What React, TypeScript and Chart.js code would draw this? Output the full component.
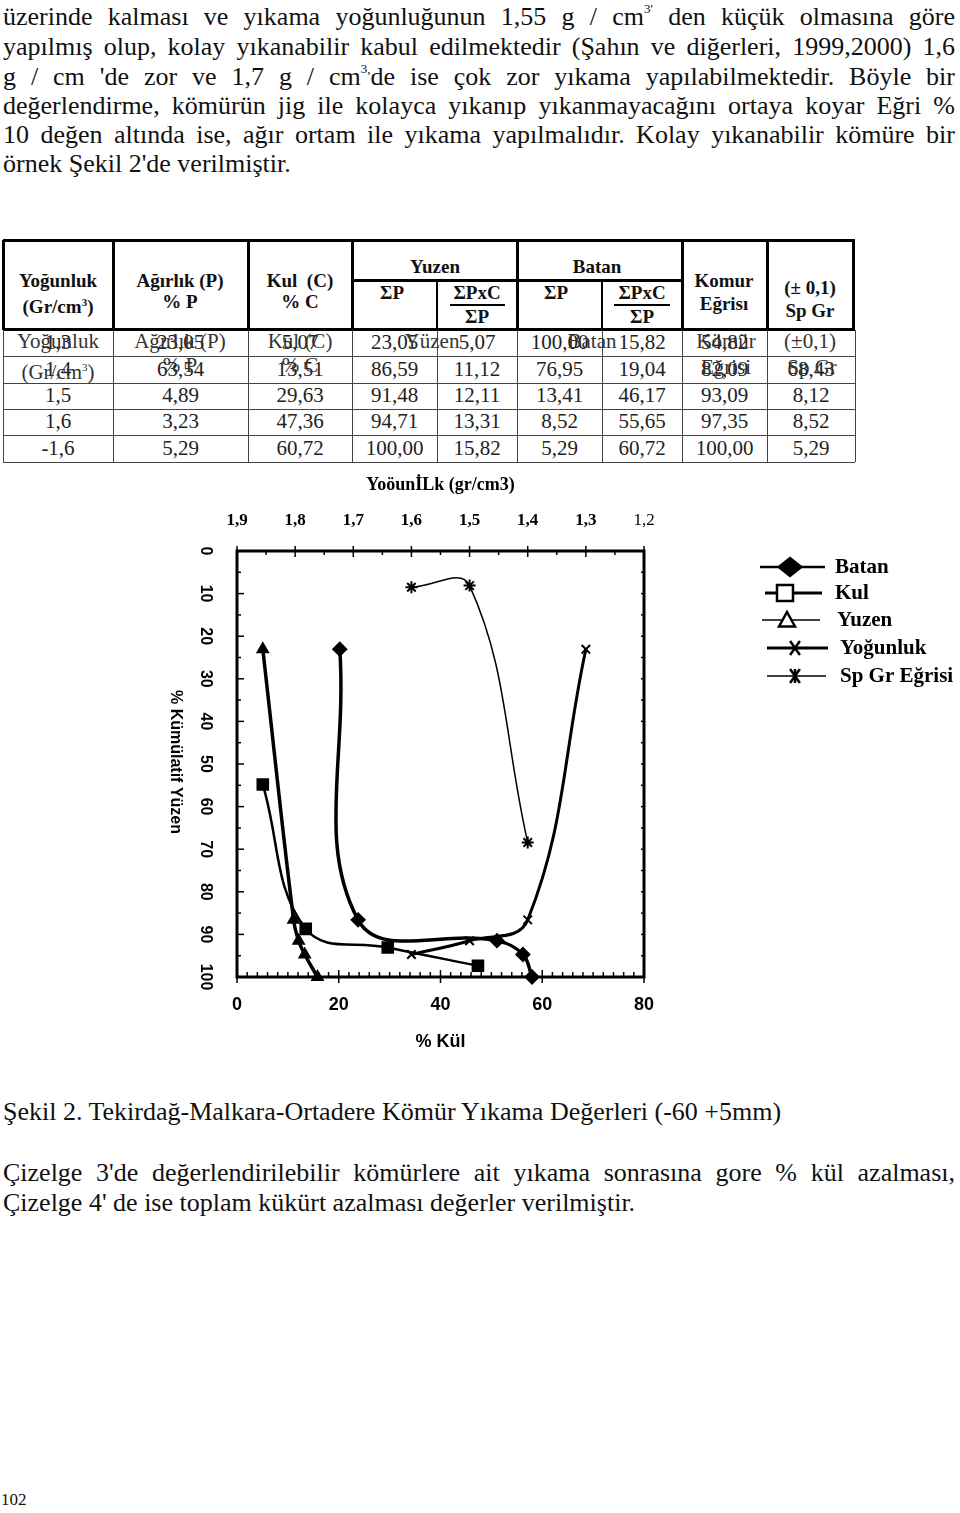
import React, { useEffect, useRef } from 'react';
import { Chart, registerables } from 'chart.js';

Chart.register(...registerables);

// ---------- table data ----------
const densityCol = ['1,3', '1,4', '1,5', '1,6', '-1,6'];
const weightCol = ['23,05', '63,54', '4,89', '3,23', '5,29'];
const ashCol = ['5,07', '13,51', '29,63', '47,36', '60,72'];
const floatSumP = ['23,05', '86,59', '91,48', '94,71', '100,00'];
const floatAsh = ['5,07', '11,12', '12,11', '13,31', '15,82'];
const sinkSumP = ['100,00', '76,95', '13,41', '8,52', '5,29'];
const sinkAsh = ['15,82', '19,04', '46,17', '55,65', '60,72'];
const coalCurve = ['54,82', '82,09', '93,09', '97,35', '100,00'];
const spGrCol = ['', '68,43', '8,12', '8,52', '5,29'];

// ---------- chart data ----------
const batanAsh = [20.2, 23.8, 51.1, 56.2, 58.0];
const batanCum = [23.05, 86.59, 91.48, 94.71, 100];
const kulAsh = [5.07, 13.51, 29.63, 47.36];
const kulCum = [54.82, 88.7, 93.09, 97.35];
const yuzenAsh = [5.07, 11.12, 12.11, 13.31, 15.82];
const yuzenCum = [23.05, 86.59, 91.48, 94.71, 100];
const yogunlukDensity = [1.3, 1.4, 1.5, 1.6];
const yogunlukCum = [23.05, 86.59, 91.48, 94.71];
const spGrDensity = [1.6, 1.5, 1.4];
const spGrCum = [8.52, 8.12, 68.43];

const seriesNames = ['Batan', 'Kul', 'Yuzen', 'Yoğunluk', 'Sp Gr Eğrisi'];
const yTickValues = [0, 10, 20, 30, 40, 50, 60, 70, 80, 90, 100];

const CL = 150;
const CT = 470;
const CW = 810;
const CH = 600;

const pts = (xs: number[], ys: number[]) => xs.map((x, i) => ({ x, y: ys[i] }));

function drawMarker(ctx: CanvasRenderingContext2D, kind: string, x: number, y: number, r: number, filled: boolean) {
  ctx.beginPath();
  if (kind === 'diamond') {
    ctx.moveTo(x, y - r);
    ctx.lineTo(x + r * 1.25, y);
    ctx.lineTo(x, y + r);
    ctx.lineTo(x - r * 1.25, y);
    ctx.closePath();
  } else if (kind === 'square') {
    ctx.rect(x - r, y - r, 2 * r, 2 * r);
  } else if (kind === 'triangle') {
    ctx.moveTo(x, y - r);
    ctx.lineTo(x + r, y + r * 0.8);
    ctx.lineTo(x - r, y + r * 0.8);
    ctx.closePath();
  } else if (kind === 'cross') {
    ctx.moveTo(x - r * 0.7, y - r);
    ctx.lineTo(x + r * 0.7, y + r);
    ctx.moveTo(x + r * 0.7, y - r);
    ctx.lineTo(x - r * 0.7, y + r);
  } else if (kind === 'star') {
    ctx.moveTo(x - r * 0.7, y - r);
    ctx.lineTo(x + r * 0.7, y + r);
    ctx.moveTo(x + r * 0.7, y - r);
    ctx.lineTo(x - r * 0.7, y + r);
    ctx.moveTo(x, y - r);
    ctx.lineTo(x, y + r);
  }
  if (filled) {
    ctx.fillStyle = '#000';
    ctx.fill();
  } else if (kind === 'diamond' || kind === 'square' || kind === 'triangle') {
    ctx.fillStyle = '#fff';
    ctx.fill();
  }
  ctx.stroke();
}

function WashChart() {
  const ref = useRef<HTMLCanvasElement>(null);
  useEffect(() => {
    const canvas = ref.current;
    if (!canvas) return;

    const framePlugin = {
      id: 'framePlugin',
      beforeDatasetsDraw(chart: any) {
        const { ctx, chartArea: a, scales } = chart;
        const x = scales.x;
        const x2 = scales.x2;
        const y = scales.y;
        ctx.save();
        ctx.strokeStyle = '#000';
        ctx.lineWidth = 1.5;
        for (let v = 0; v <= 80; v += 2) {
          const px = x.getPixelForValue(v);
          const major = v % 20 === 0;
          ctx.beginPath();
          ctx.moveTo(px, a.bottom + (major ? 6 : 0));
          ctx.lineTo(px, a.bottom - (major ? 7 : 5));
          ctx.stroke();
        }
        for (let i = 0; i <= 14; i++) {
          const v = 1.2 + i * 0.05;
          const px = x2.getPixelForValue(v);
          const major = i % 2 === 0;
          ctx.beginPath();
          ctx.moveTo(px, a.top - (major ? 5 : 0));
          ctx.lineTo(px, a.top + (major ? 6 : 4));
          ctx.stroke();
        }
        for (let v = 0; v <= 100; v += 5) {
          const py = y.getPixelForValue(v);
          const major = v % 10 === 0;
          ctx.beginPath();
          ctx.moveTo(a.left, py);
          ctx.lineTo(a.left + (major ? 7 : 4), py);
          ctx.stroke();
          ctx.beginPath();
          ctx.moveTo(a.right, py);
          ctx.lineTo(a.right - 3, py);
          ctx.stroke();
        }
        ctx.lineWidth = 3;
        ctx.strokeRect(a.left, a.top, a.right - a.left, a.bottom - a.top);
        ctx.restore();
      },
      afterDraw(chart: any) {
        const { ctx, scales } = chart;
        const y = scales.y;
        ctx.save();
        ctx.fillStyle = '#000';
        ctx.font = 'bold 16px "Liberation Sans", Arial, sans-serif';
        ctx.textAlign = 'center';
        ctx.textBaseline = 'middle';
        yTickValues.forEach((v) => {
          const py = y.getPixelForValue(v);
          ctx.save();
          ctx.translate(55, py);
          ctx.rotate(Math.PI / 2);
          ctx.fillText(String(v), 0, 0);
          ctx.restore();
        });
        ctx.save();
        ctx.translate(25, (y.top + y.bottom) / 2 - 2);
        ctx.rotate(Math.PI / 2);
        ctx.fillText('% Kümülatif Yüzen', 0, 0);
        ctx.restore();

        // legend
        const items = [
          { kind: 'diamond', y: 97, x1: 610, x2: 675, mx: 640, r: 9, lw: 2.5, tx: 685 },
          { kind: 'square', y: 123, x1: 615, x2: 672, mx: 635, r: 8, lw: 3, tx: 685 },
          { kind: 'triangle', y: 150, x1: 612, x2: 670, mx: 637, r: 8, lw: 1.5, tx: 687 },
          { kind: 'cross', y: 178, x1: 617, x2: 678, mx: 645, r: 7, lw: 3, tx: 690 },
          { kind: 'star', y: 206, x1: 617, x2: 676, mx: 645, r: 7, lw: 1.5, tx: 690 },
        ];
        ctx.font = 'bold 21px "Liberation Serif", "Times New Roman", serif';
        ctx.textAlign = 'left';
        items.forEach((it, i) => {
          ctx.strokeStyle = '#000';
          ctx.lineWidth = it.lw;
          ctx.beginPath();
          ctx.moveTo(it.x1, it.y);
          ctx.lineTo(it.x2, it.y);
          ctx.stroke();
          ctx.lineWidth = 2.5;
          drawMarker(ctx, it.kind, it.mx, it.y, it.r, it.kind === 'diamond' || it.kind === 'star');
          ctx.fillStyle = '#000';
          ctx.fillText(chart.data.datasets[i].label, it.tx, it.y + 1);
        });
        ctx.restore();
      },
    };

    const base = {
      showLine: true,
      tension: 0.4,
      borderColor: '#000',
      backgroundColor: '#000',
      pointBackgroundColor: '#000',
      pointBorderColor: '#000',
      pointBorderWidth: 2,
      clip: false as any,
    };

    const chart = new Chart(canvas, {
      type: 'scatter',
      data: {
        datasets: [
          { ...base, label: seriesNames[0], data: pts(batanAsh, batanCum), xAxisID: 'x', borderWidth: 3.5, pointStyle: 'rectRot', pointRadius: 6.5 },
          { ...base, label: seriesNames[1], data: pts(kulAsh, kulCum), xAxisID: 'x', borderWidth: 2.5, pointStyle: 'rect', pointRadius: 7.5 },
          { ...base, label: seriesNames[2], data: pts(yuzenAsh, yuzenCum), xAxisID: 'x', borderWidth: 3.5, pointStyle: 'triangle', pointRadius: 6 },
          { ...base, label: seriesNames[3], data: pts(yogunlukDensity, yogunlukCum), xAxisID: 'x2', borderWidth: 3, pointStyle: 'crossRot', pointRadius: 6 },
          { ...base, label: seriesNames[4], data: pts(spGrDensity, spGrCum), xAxisID: 'x2', borderWidth: 1.5, pointStyle: 'star', pointRadius: 6 },
        ],
      } as any,
      options: {
        animation: false,
        responsive: false,
        devicePixelRatio: 1,
        layout: { padding: { left: 0, right: 316, top: 0, bottom: 0 }, autoPadding: false } as any,
        plugins: { legend: { display: false }, tooltip: { enabled: false } },
        scales: {
          x: {
            type: 'linear',
            position: 'bottom',
            min: 0,
            max: 80,
            grid: { display: false, drawTicks: false },
            border: { display: false },
            ticks: {
              stepSize: 20,
              padding: 17,
              color: '#000',
              font: { family: '"Liberation Sans", Arial, sans-serif', weight: 'bold', size: 18 },
            },
            title: {
              display: true,
              text: '% Kül',
              color: '#000',
              padding: { top: 0, bottom: 17 },
              font: { family: '"Liberation Sans", Arial, sans-serif', weight: 'bold', size: 18 },
            },
            afterFit: (s: any) => { s.height = 93; },
          },
          x2: {
            type: 'linear',
            position: 'top',
            min: 1.2,
            max: 1.9,
            reverse: true,
            grid: { display: false, drawTicks: false },
            border: { display: false },
            ticks: {
              stepSize: 0.1,
              padding: 20,
              color: '#000',
              callback: (v: any) => Number(v).toFixed(1).replace('.', ','),
              font: (ctx: any) => ({
                family: '"Liberation Serif", "Times New Roman", serif',
                weight: ctx.tick && Math.abs(ctx.tick.value - 1.2) < 1e-6 ? 'normal' : 'bold',
                size: 17,
              }),
            },
            title: {
              display: true,
              text: 'YoöunİLk (gr/cm3)',
              color: '#000',
              padding: { top: 5, bottom: 0 },
              font: { family: '"Liberation Serif", "Times New Roman", serif', weight: 'bold', size: 18 },
            },
            afterFit: (s: any) => { s.height = 81; },
          },
          y: {
            type: 'linear',
            position: 'left',
            min: 0,
            max: 100,
            reverse: true,
            grid: { display: false, drawTicks: false },
            border: { display: false },
            ticks: { stepSize: 10, display: false },
            afterFit: (s: any) => { s.width = 87; },
          },
        },
      } as any,
      plugins: [framePlugin],
    });
    return () => chart.destroy();
  }, []);
  return (
    <canvas
      ref={ref}
      width={CW}
      height={CH}
      style={{ position: 'absolute', left: CL, top: CT, width: CW, height: CH }}
    />
  );
}

// ---------- table ----------
const colX = [3, 113, 248, 352, 437, 517, 602, 682, 767, 855];
const rowY = [330, 356, 383, 409, 435, 462];
const dataCols = [densityCol, weightCol, ashCol, floatSumP, floatAsh, sinkSumP, sinkAsh, coalCurve, spGrCol];

function Line({ x, y, w, h, c = '#000' }: { x: number; y: number; w: number; h: number; c?: string }) {
  return <div style={{ position: 'absolute', left: x, top: y, width: w, height: h, background: c }} />;
}

function Txt({ cx, cy, children, size = 22, bold = false, style = {} }: any) {
  return (
    <div
      style={{
        position: 'absolute',
        left: cx - 100,
        top: cy - size * 0.6,
        width: 200,
        height: size * 1.2,
        lineHeight: `${size * 1.2}px`,
        textAlign: 'center',
        fontSize: size,
        fontWeight: bold ? 'bold' : 'normal',
        whiteSpace: 'nowrap',
        ...style,
      }}
    >
      {children}
    </div>
  );
}

function DataTable() {
  const hb = 19;
  const lines: any[] = [];
  // header borders (thick)
  lines.push(<Line key="ht" x={3} y={239} w={852} h={3} />);
  lines.push(<Line key="hb" x={3} y={328} w={852} h={3} />);
  lines.push(<Line key="hm" x={352} y={279} w={330} h={2.5} />);
  [3, 113, 248, 352, 517, 682, 767, 853].forEach((x, i) =>
    lines.push(<Line key={'hv' + i} x={x - 1} y={240} w={2.5} h={90} />),
  );
  [437, 602].forEach((x, i) => lines.push(<Line key={'hs' + i} x={x - 1} y={280} w={2} h={50} />));
  // data borders (thin)
  rowY.slice(1).forEach((y, i) => lines.push(<Line key={'dr' + i} x={3} y={y} w={852} h={1} c="#444" />));
  colX.forEach((x, i) => lines.push(<Line key={'dc' + i} x={x} y={330} w={1} h={132} c="#444" />));

  const centers = colX.slice(0, -1).map((x, i) => (x + colX[i + 1]) / 2);
  const rowC = rowY.slice(0, -1).map((y, i) => (y + rowY[i + 1]) / 2);

  return (
    <div>
      {lines}
      <div style={{ fontFamily: '"Liberation Serif", "Times New Roman", serif' }}>
        <Txt cx={58} cy={281} size={hb} bold>Yoğunluk</Txt>
        <Txt cx={58} cy={302} size={hb} bold>(Gr/cm<sup style={{ fontSize: 11 }}>3</sup>)</Txt>
        <Txt cx={180} cy={281} size={hb} bold>Ağırlık (P)</Txt>
        <Txt cx={180} cy={302} size={hb} bold>% P</Txt>
        <Txt cx={300} cy={281} size={hb} bold>Kul&nbsp;&nbsp;(C)</Txt>
        <Txt cx={300} cy={302} size={hb} bold>% C</Txt>
        <Txt cx={435} cy={267} size={hb} bold>Yuzen</Txt>
        <Txt cx={597} cy={267} size={hb} bold>Batan</Txt>
        <Txt cx={392} cy={293} size={hb} bold>ΣP</Txt>
        <Txt cx={477} cy={293} size={hb} bold>ΣPxC</Txt>
        <Line x={450} y={304} w={55} h={2} />
        <Txt cx={477} cy={317} size={hb} bold>ΣP</Txt>
        <Txt cx={556} cy={293} size={hb} bold>ΣP</Txt>
        <Txt cx={642} cy={293} size={hb} bold>ΣPxC</Txt>
        <Line x={614} y={304} w={56} h={2} />
        <Txt cx={642} cy={317} size={hb} bold>ΣP</Txt>
        <Txt cx={724} cy={281} size={hb} bold>Komur</Txt>
        <Txt cx={724} cy={304} size={hb} bold>Eğrisı</Txt>
        <Txt cx={810} cy={288} size={hb} bold>(± 0,1)</Txt>
        <Txt cx={810} cy={311} size={hb} bold>Sp Gr</Txt>

        {dataCols.map((col, ci) =>
          col.map((v, ri) => (
            <Txt key={`d${ci}-${ri}`} cx={centers[ci]} cy={rowC[ri]} size={21} style={{ color: '#222' }}>
              {v}
            </Txt>
          )),
        )}
        {/* overlapped text layer */}
        <Txt cx={58} cy={342} size={21} style={{ color: '#333' }}>Yoğunluk</Txt>
        <Txt cx={180} cy={342} size={21} style={{ color: '#333' }}>Ağırlık (P)</Txt>
        <Txt cx={300} cy={342} size={21} style={{ color: '#333' }}>Kul (C)</Txt>
        <Txt cx={432} cy={342} size={21} style={{ color: '#333' }}>Yüzen</Txt>
        <Txt cx={592} cy={342} size={21} style={{ color: '#333' }}>Batan</Txt>
        <Txt cx={726} cy={342} size={21} style={{ color: '#333' }}>Kömür</Txt>
        <Txt cx={810} cy={342} size={21} style={{ color: '#333' }}>(±0,1)</Txt>
        <Txt cx={58} cy={368} size={21} style={{ color: '#333' }}>(Gr/cm<sup style={{ fontSize: 11 }}>3</sup>)</Txt>
        <Txt cx={180} cy={366} size={21} style={{ color: '#333' }}>% P</Txt>
        <Txt cx={300} cy={366} size={21} style={{ color: '#333' }}>% C</Txt>
        <Txt cx={726} cy={368} size={21} style={{ color: '#333' }}>Eğrisi</Txt>
        <Txt cx={812} cy={368} size={21} style={{ color: '#333' }}>Sp Gr</Txt>
      </div>
    </div>
  );
}

const justLine = (top: number, content: any, key: string, justify = true) => (
  <div
    key={key}
    style={{
      position: 'absolute',
      left: 3,
      top,
      width: 952,
      height: 30,
      lineHeight: '30px',
      fontSize: 26,
      textAlign: justify ? 'justify' : 'left',
      textAlignLast: justify ? 'justify' : 'left',
    } as any}
  >
    {content}
  </div>
);

const supS = { fontSize: 13, verticalAlign: 'top', lineHeight: '14px' } as any;

export default function App() {
  const lt = [2, 32, 62, 91, 120, 149];
  return (
    <div
      style={{
        position: 'absolute',
        left: 0,
        top: 0,
        width: 960,
        height: 1513,
        background: '#fff',
        color: '#111',
        fontFamily: '"Liberation Serif", "Times New Roman", serif',
        overflow: 'hidden',
      }}
    >
      {justLine(lt[0], <>üzerinde kalması ve yıkama yoğunluğunun 1,55 g / cm<span style={supS}>3'</span> den küçük olmasına göre</>, 'l1')}
      {justLine(lt[1], 'yapılmış olup, kolay yıkanabilir kabul edilmektedir (Şahın ve diğerleri, 1999,2000) 1,6', 'l2')}
      {justLine(lt[2], <>g / cm 'de zor ve 1,7 g / cm<span style={supS}>3,</span>de ise çok zor yıkama yapılabilmektedir. Böyle bir</>, 'l3')}
      {justLine(lt[3], 'değerlendirme, kömürün jig ile kolayca yıkanıp yıkanmayacağını ortaya koyar Eğri %', 'l4')}
      {justLine(lt[4], '10 değen altında ise, ağır ortam ile yıkama yapılmalıdır. Kolay yıkanabilir kömüre bir', 'l5')}
      {justLine(lt[5], "örnek Şekil 2'de verilmiştir.", 'l6', false)}

      <DataTable />
      <WashChart />

      {justLine(1097, 'Şekil 2. Tekirdağ-Malkara-Ortadere Kömür Yıkama Değerleri (-60 +5mm)', 'c1', false)}
      {justLine(1158, "Çizelge 3'de değerlendirilebilir kömürlere ait yıkama sonrasına gore % kül azalması,", 'c2')}
      {justLine(1188, "Çizelge 4' de ise toplam kükürt azalması değerler verilmiştir.", 'c3', false)}
      <div style={{ position: 'absolute', left: 1, top: 1490, fontSize: 17, lineHeight: '20px' }}>102</div>
    </div>
  );
}
